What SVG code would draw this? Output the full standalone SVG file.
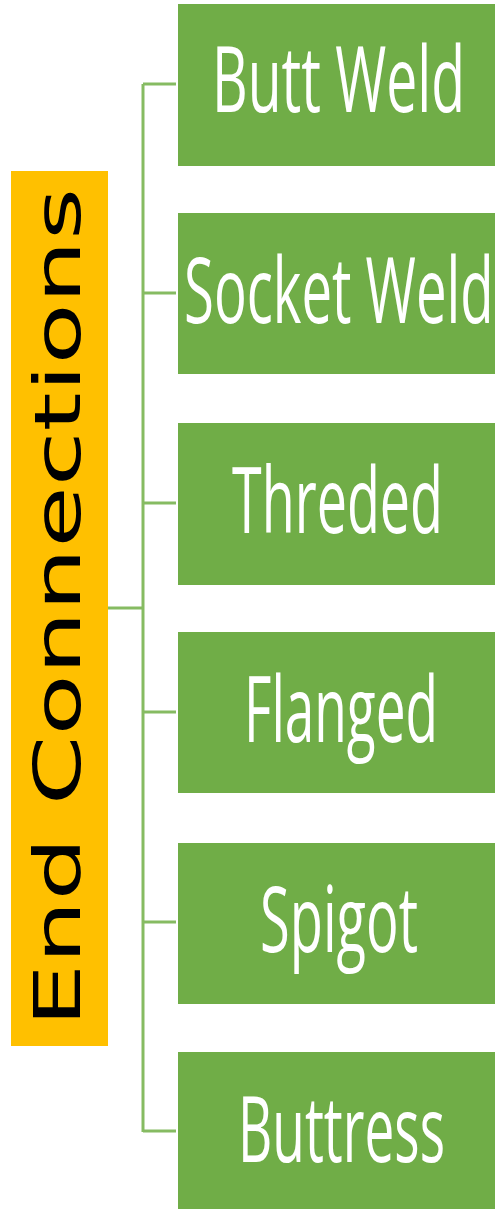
<svg xmlns="http://www.w3.org/2000/svg" width="495" height="1209" viewBox="0 0 495 1209">
<style>
.box{fill:#70AD47}
.lbl{font-family:"Open Sans","Noto Sans",sans-serif;font-size:91px;fill:#FFFFFF}
.conn{stroke:#86BB62;stroke-width:3;fill:none}
.root{fill:#FFC000}
.rootlbl{font-family:"DejaVu Sans",sans-serif;font-size:64px;fill:#000000}
</style>
<rect width="495" height="1209" fill="#FFFFFF"/>
<g id="connectors">
<path class="conn" d="M108 608H143M143 84V1132M143 84H176M143 293H176M143 503H176M143 712H176M143 922H176M143 1131H176"/>
</g>
<g id="root">
<rect class="root" x="11" y="171" width="97" height="875"/>
<text class="rootlbl" transform="translate(80,1027) rotate(-90)" x="0" y="0" textLength="839" lengthAdjust="spacingAndGlyphs">End Connections</text>
</g>
<g id="butt-weld">
<rect class="box" x="178" y="4" width="317" height="162"/>
<text class="lbl" transform="translate(212,112) scale(0.6,1)" x="0" y="0" textLength="421.7" lengthAdjust="spacingAndGlyphs">Butt Weld</text>
</g>
<g id="socket-weld">
<rect class="box" x="178" y="213" width="317" height="161"/>
<text class="lbl" transform="translate(184,323) scale(0.6,1)" x="0" y="0" textLength="516" lengthAdjust="spacingAndGlyphs">Socket Weld</text>
</g>
<g id="threded">
<rect class="box" x="178" y="423" width="317" height="162"/>
<text class="lbl" transform="translate(232,533) scale(0.6,1)" x="0" y="0" textLength="351.7" lengthAdjust="spacingAndGlyphs">Threded</text>
</g>
<g id="flanged">
<rect class="box" x="178" y="632" width="317" height="161"/>
<text class="lbl" transform="translate(244,742) scale(0.6,1)" x="0" y="0" textLength="323.3" lengthAdjust="spacingAndGlyphs">Flanged</text>
</g>
<g id="spigot">
<rect class="box" x="178" y="843" width="317" height="161"/>
<text class="lbl" transform="translate(260,952) scale(0.6,1)" x="0" y="0" textLength="263.3" lengthAdjust="spacingAndGlyphs">Spigot</text>
</g>
<g id="buttress">
<rect class="box" x="178" y="1052" width="317" height="157"/>
<text class="lbl" transform="translate(238,1162) scale(0.6,1)" x="0" y="0" textLength="345" lengthAdjust="spacingAndGlyphs">Buttress</text>
</g>
</svg>
